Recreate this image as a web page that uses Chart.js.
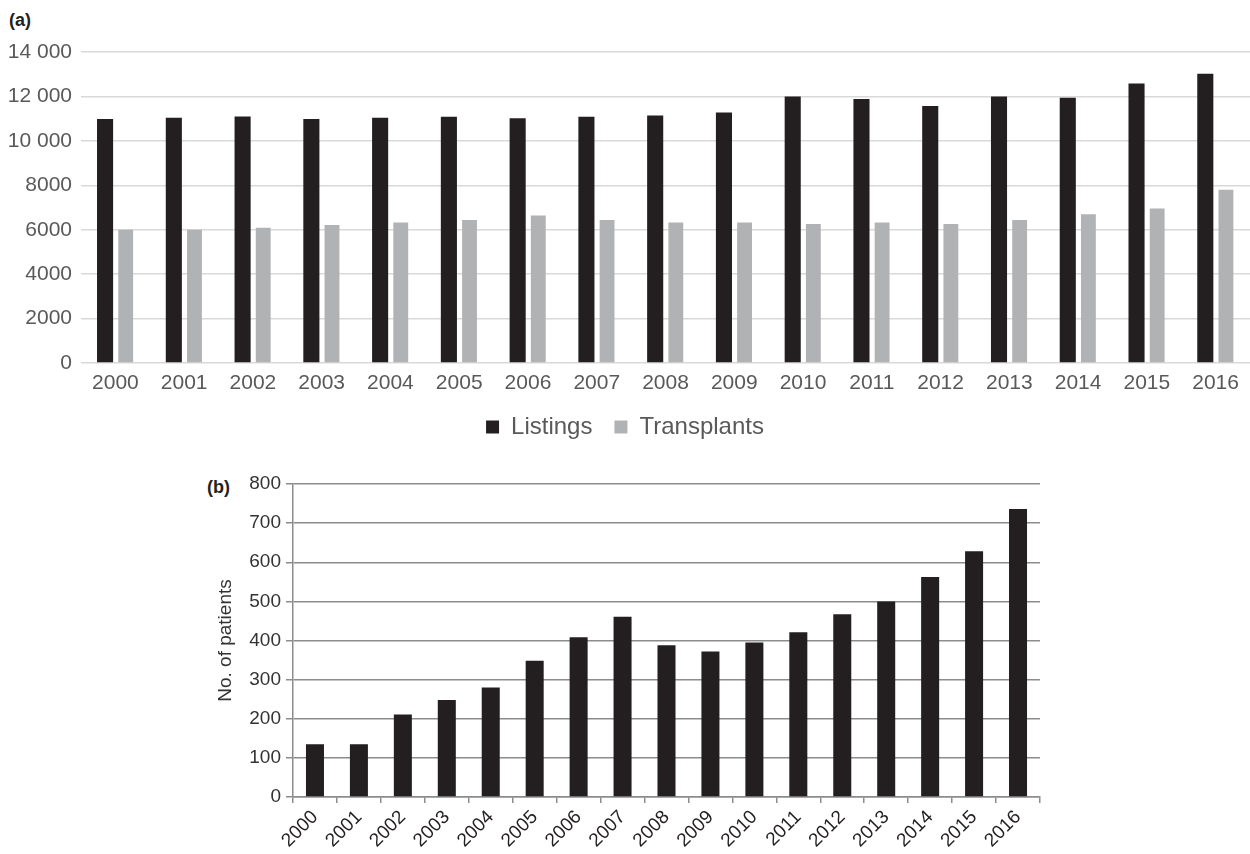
<!DOCTYPE html>
<html>
<head>
<meta charset="utf-8">
<script src="https://cdn.jsdelivr.net/npm/chart.js@4.4.0/dist/chart.umd.min.js"></script>
<style>
  body { margin: 0; background: #fff; font-family: "Liberation Sans", Arial, sans-serif; }
  #wrap { position: relative; width: 1250px; height: 854px; }
  .box { position: absolute; left: 0; width: 1250px; }
  .tag { position: absolute; font-weight: bold; color: #231f20; font-size: 18px; }
</style>
</head>
<body>
<div id="wrap">
  <div class="tag" style="left:9px; top:10px;">(a)</div>
  <div class="box" style="top:0; height:449px;"><canvas id="chartA"></canvas></div>
  <div class="tag" style="left:207px; top:477px;">(b)</div>
  <div class="box" style="top:460px; height:394px;"><canvas id="chartB"></canvas></div>
</div>
<script>
// datos
var years = ['2000', '2001', '2002', '2003', '2004', '2005', '2006', '2007', '2008',
             '2009', '2010', '2011', '2012', '2013', '2014', '2015', '2016'];
var listings = [10980, 11040, 11100, 10980, 11040, 11085, 11020, 11085, 11140,
                11280, 12000, 11880, 11570, 12000, 11940, 12580, 13020];
var transplants = [6000, 6000, 6090, 6210, 6330, 6440, 6640, 6440, 6330,
                   6330, 6260, 6330, 6260, 6440, 6700, 6950, 7800];
var topTickLabels = ['0', '2000', '4000', '6000', '8000', '10 000', '12 000', '14 000'];
var patients = [135, 135, 211, 248, 280, 348, 408, 461, 388,
                372, 395, 421, 467, 500, 562, 628, 736];

var fontName = '"Liberation Sans", Arial, sans-serif';
Chart.defaults.font.family = fontName;
Chart.defaults.animation = false;

// grafica (a)
var ctxA = document.getElementById('chartA').getContext('2d');
new Chart(ctxA, {
    type: 'bar',
    data: {
        labels: years,
        datasets: [{
            label: 'Listings',
            data: listings,
            backgroundColor: '#231f20',
            categoryPercentage: 0.6,
            barPercentage: 0.78
        }, {
            label: 'Transplants',
            data: transplants,
            backgroundColor: '#b1b2b4',
            categoryPercentage: 0.6,
            barPercentage: 0.72
        }]
    },
    options: {
        responsive: true,
        maintainAspectRatio: false,
        layout: { padding: { top: 52, left: 0, right: 0, bottom: 0 } },
        plugins: {
            legend: {
                display: true,
                position: 'bottom',
                labels: {
                    color: '#595959',
                    font: { size: 24 },
                    boxWidth: 13,
                    boxHeight: 13,
                    padding: 22
                }
            },
            tooltip: { enabled: false }
        },
        scales: {
            x: {
                grid: { display: false },
                border: { display: false },
                ticks: { color: '#595959', font: { size: 21 }, padding: 0 },
                afterFit: function (scale) { scale.height = 30; }
            },
            y: {
                min: 0,
                max: 14000,
                ticks: {
                    stepSize: 2000,
                    color: '#595959',
                    font: { size: 21 },
                    padding: 9,
                    callback: function (value) { return topTickLabels[value / 2000]; }
                },
                grid: { color: '#d9d9d9', lineWidth: 1.5, drawTicks: false },
                border: { display: false },
                afterFit: function (scale) { scale.width = 81; }
            }
        }
    }
});

// grafica (b)
var ctxB = document.getElementById('chartB').getContext('2d');
new Chart(ctxB, {
    type: 'bar',
    data: {
        labels: years,
        datasets: [{
            label: 'No. of patients',
            data: patients,
            backgroundColor: '#231f20',
            categoryPercentage: 1.0,
            barPercentage: 0.41
        }]
    },
    options: {
        responsive: true,
        maintainAspectRatio: false,
        layout: { padding: { top: 24, left: 210, right: 210, bottom: 0 } },
        plugins: {
            legend: { display: false },
            tooltip: { enabled: false }
        },
        scales: {
            x: {
                grid: { drawOnChartArea: false, color: '#8c8c8c', tickLength: 6, lineWidth: 1.5 },
                border: { color: '#8c8c8c', width: 1.5 },
                ticks: { color: '#231f20', font: { size: 19 }, maxRotation: 45, minRotation: 45, padding: 3 },
                afterFit: function (scale) { scale.height = 57; }
            },
            y: {
                min: 0,
                max: 800,
                ticks: { stepSize: 100, color: '#333333', font: { size: 19 }, padding: 5 },
                grid: { color: '#8c8c8c', lineWidth: 1.5, tickLength: 7 },
                border: { color: '#8c8c8c', width: 1.5 },
                title: { display: true, text: 'No. of patients', color: '#333333', font: { size: 19 } },
                afterFit: function (scale) { scale.width = 83; }
            }
        }
    }
});
</script>
</body>
</html>
